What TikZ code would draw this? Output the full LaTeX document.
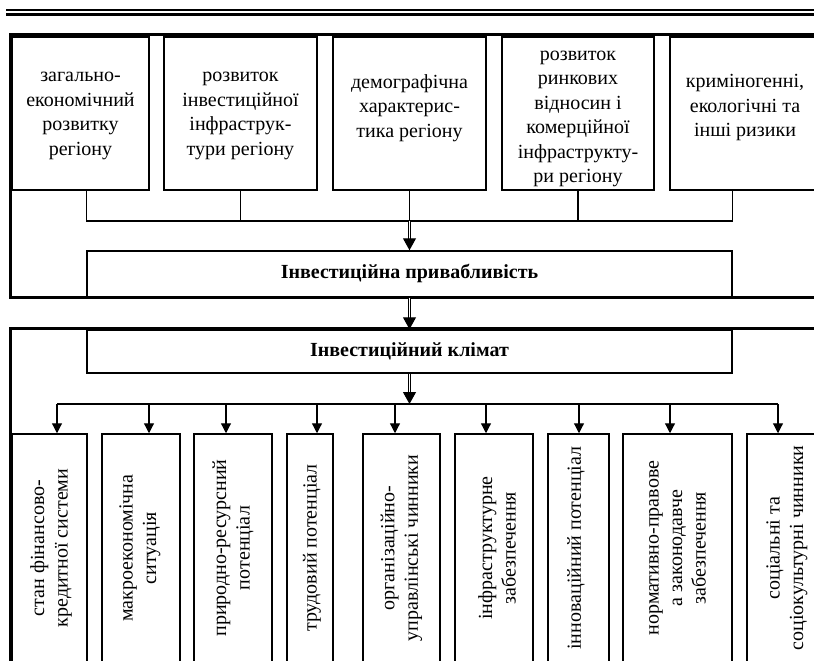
\documentclass[tikz,border=0pt]{standalone}
\usepackage{fontspec}
\setmainfont{Liberation Serif}
\usetikzlibrary{arrows.meta,calc}
\begin{document}
\begin{tikzpicture}[x=1pt,y=-1pt,
  box/.style={draw, line width=1.5pt, inner sep=0pt},
  ttext/.style={align=center, font=\fontsize{20}{24.5}\selectfont, inner sep=0pt},
  vtext/.style={align=center, rotate=90, font=\fontsize{20}{23.5}\selectfont, inner sep=0pt},
  title/.style={font=\fontsize{20}{22}\selectfont\bfseries, inner sep=0pt},
  frame/.style={line width=3pt, line join=miter},
  conn/.style={line width=1.2pt},
  arr/.style={line width=1.2pt, -{Triangle[length=10pt,width=10pt]}},
  dbl/.style={double, double distance=1.6pt, line width=1.1pt, -{Triangle[length=12pt,width=13pt]}}
]
\useasboundingbox (0,0) rectangle (814,661);
\clip (0,0) rectangle (814,661);
\fill[white] (0,0) rectangle (814,661);

% double rule at the top
\draw[line width=1.3pt] (6,10) -- (814,10);
\draw[line width=3pt] (6,14.5) -- (814,14.5);

% upper frame
\draw[frame] (830,35) -- (10,35) -- (10,297) -- (830,297);

% top boxes
\node[box, minimum width=137, minimum height=153] (t1) at (80.5,113.5) {};
\node[box, minimum width=153, minimum height=153] (t2) at (240.5,113.5) {};
\node[box, minimum width=153, minimum height=153] (t3) at (409.5,113.5) {};
\node[box, minimum width=152, minimum height=153] (t4) at (578,113.5) {};
\node[box, minimum width=150, minimum height=153] (t5) at (745,113.5) {};

\node[ttext] (t1t) at (80.5,116) {загально-\\економічний\\розвитку\\регіону};
\node[ttext] (t2t) at (240.5,116) {розвиток\\інвестиційної\\інфраструк-\\тури регіону};
\node[ttext] (t3t) at (409.5,108) {демографічна\\характерис-\\тика регіону};
\node[ttext] (t4t) at (578,119) {розвиток\\ринкових\\відносин і\\комерційної\\інфраструкту-\\ри регіону};
\node[ttext] (t5t) at (745,108) {криміногенні,\\екологічні та\\інші ризики};

% attractiveness box
\node[box, minimum width=645, minimum height=46] (p) at (409.5,274) {};
\node[title] (pt) at (409.5,273) {Інвестиційна привабливість};

\coordinate (hy) at (0,221);
\draw[conn] (t1.south -| p.west) -- (p.west |- hy) -- (p.east |- hy) -- (t5.south -| p.east);
\draw[conn] (t2.south) -- (t2.south |- hy);
\draw[conn] (t3.south) -- (t3.south |- hy);
\draw[conn] (t4.south) -- (t4.south |- hy);
\draw[dbl] (t3.south |- hy) -- (p.north);

% lower frame
\draw[frame] (10,700) -- (10,328) -- (830,328);

% climate box
\node[box, minimum width=645, minimum height=43] (k) at (409.5,351.5) {};
\node[title] (kt) at (409.5,351) {Інвестиційний клімат};

\draw[dbl] (p.south) -- (k.north);

\coordinate (hb) at (409.5,404);
\draw[dbl] (k.south) -- (hb);

% bottom boxes
\node[box, minimum width=75, minimum height=232] (b1) at (49.5,550) {};
\node[box, minimum width=78, minimum height=232] (b2) at (141,550) {};
\node[box, minimum width=78, minimum height=232] (b3) at (233,550) {};
\node[box, minimum width=46, minimum height=232] (b4) at (310,550) {};
\node[box, minimum width=77, minimum height=232] (b5) at (401.5,550) {};
\node[box, minimum width=78, minimum height=232] (b6) at (494,550) {};
\node[box, minimum width=61, minimum height=232] (b7) at (578.5,550) {};
\node[box, minimum width=109, minimum height=232] (b8) at (677.5,550) {};
\node[box, minimum width=80, minimum height=232] (b9) at (787,550) {};

\node[vtext] (b1t) at (51,548) {стан фінансово-\\кредитної системи};
\node[vtext] (b2t) at (140,548) {макроекономічна\\ситуація};
\node[vtext] (b3t) at (233,548) {природно-ресурсний\\потенціал};
\node[vtext] (b4t) at (312,548) {трудовий потенціал};
\node[vtext] (b5t) at (401.5,548) {організаційно-\\управлінські чинники};
\node[vtext] (b6t) at (497,548) {інфраструктурне\\забезпечення};
\node[vtext] (b7t) at (576,548) {інноваційний потенціал};
\node[vtext] (b8t) at (677.5,548) {нормативно-правове\\а законодавче\\забезпечення};
\node[vtext] (b9t) at (787,548) {соціальні та\\соціокультурні чинники};

% distribution line and arrows
\coordinate (a1) at (57,404);
\coordinate (a2) at (149,404);
\coordinate (a3) at (226,404);
\coordinate (a4) at (317,404);
\coordinate (a5) at (395,404);
\coordinate (a6) at (486,404);
\coordinate (a7) at (579,404);
\coordinate (a8) at (670,404);
\coordinate (a9) at (778,404);
\draw[conn] (a1) -- (a9);
\foreach \i in {1,...,9} {
  \draw[arr] (a\i) -- (a\i |- b\i.north);
}
\end{tikzpicture}
\end{document}
